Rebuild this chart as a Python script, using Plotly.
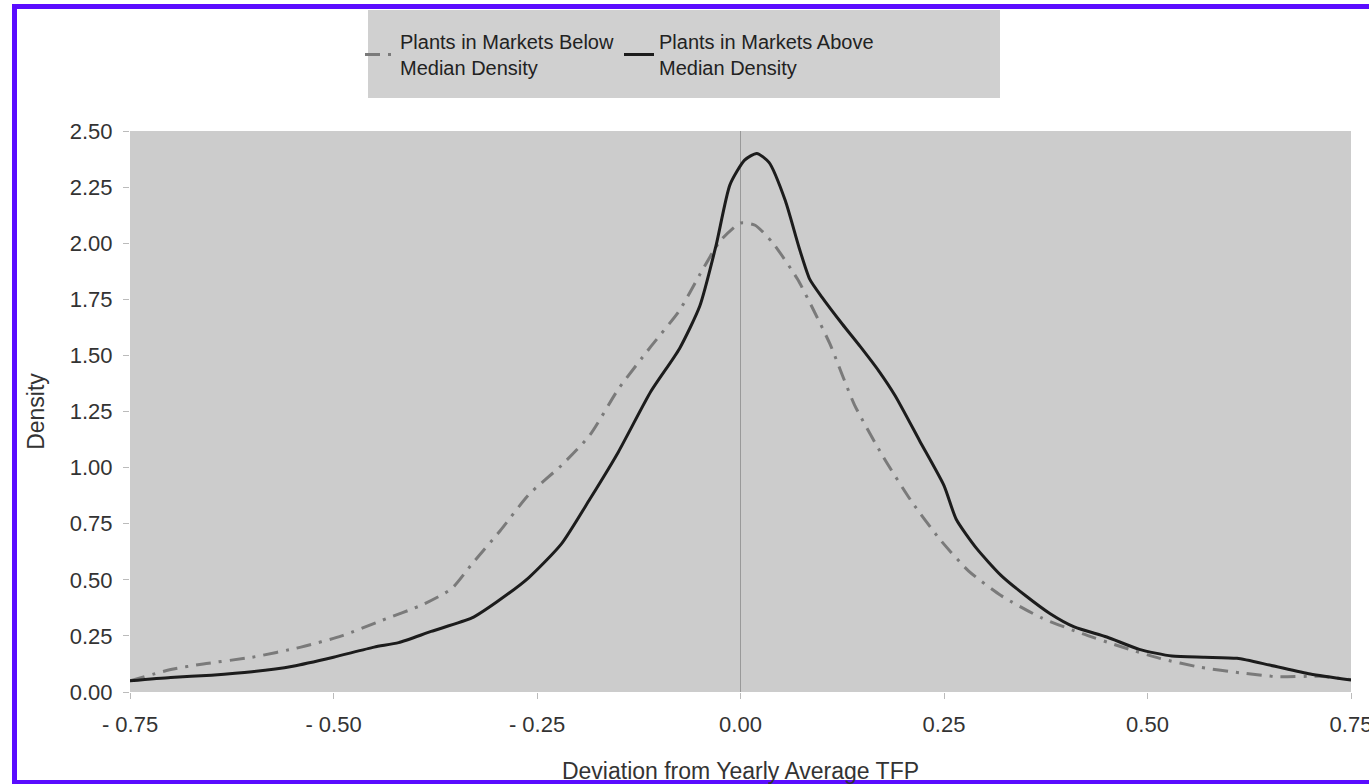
import plotly.graph_objects as go

# ---- data ----
above_x = [-0.75, -0.70, -0.65, -0.60, -0.55, -0.50, -0.45, -0.42, -0.38, -0.33,
           -0.30, -0.26, -0.22, -0.185, -0.15, -0.11, -0.075, -0.05, -0.03, -0.013,
           0.005, 0.02, 0.035, 0.055, 0.072, 0.085, 0.10, 0.125, 0.147, 0.17,
           0.19, 0.22, 0.25, 0.265, 0.29, 0.32, 0.35, 0.38, 0.41, 0.45,
           0.49, 0.53, 0.57, 0.61, 0.65, 0.70, 0.75]
above_y = [0.05, 0.065, 0.075, 0.09, 0.115, 0.155, 0.20, 0.22, 0.27, 0.33,
           0.40, 0.51, 0.66, 0.86, 1.07, 1.34, 1.53, 1.72, 1.99, 2.26,
           2.37, 2.40, 2.36, 2.19, 1.98, 1.84, 1.76, 1.64, 1.54, 1.43,
           1.32, 1.12, 0.92, 0.77, 0.64, 0.52, 0.43, 0.35, 0.29, 0.245,
           0.19, 0.16, 0.155, 0.15, 0.12, 0.08, 0.053]

below_x = [-0.75, -0.70, -0.66, -0.60, -0.54, -0.49, -0.44, -0.39, -0.355, -0.33,
           -0.295, -0.26, -0.22, -0.185, -0.15, -0.11, -0.075, -0.05, -0.025, 0.0,
           0.018, 0.04, 0.07, 0.09, 0.11, 0.14, 0.175, 0.21, 0.245, 0.28,
           0.32, 0.37, 0.42, 0.465, 0.515, 0.565, 0.615, 0.66, 0.71, 0.75]
below_y = [0.05, 0.10, 0.125, 0.155, 0.20, 0.25, 0.32, 0.39, 0.46, 0.57,
           0.72, 0.88, 1.01, 1.145, 1.35, 1.54, 1.70, 1.86, 2.01, 2.09,
           2.08, 2.00, 1.84, 1.70, 1.55, 1.28, 1.05, 0.85, 0.68, 0.54,
           0.43, 0.33, 0.26, 0.205, 0.15, 0.11, 0.085, 0.068, 0.07, 0.055]

x_tick_vals = [-0.75, -0.50, -0.25, 0.0, 0.25, 0.50, 0.75]
x_tick_text = ["- 0.75", "- 0.50", "- 0.25", "0.00", "0.25", "0.50", "0.75"]
y_tick_vals = [0.0, 0.25, 0.5, 0.75, 1.0, 1.25, 1.5, 1.75, 2.0, 2.25, 2.5]
y_tick_text = ["0.00", "0.25", "0.50", "0.75", "1.00", "1.25", "1.50", "1.75", "2.00", "2.25", "2.50"]

series_names = ["Plants in Markets Below<br>Median Density",
                "Plants in Markets Above<br>Median Density"]

FONT = "Liberation Sans, Arial, sans-serif"

fig = go.Figure()
fig.add_trace(go.Scatter(
    x=below_x, y=below_y, mode="lines", name=series_names[0],
    line=dict(color="#7a7a7a", width=3, dash="15px,8px,3px,8px", shape="spline", smoothing=0.6),
))
fig.add_trace(go.Scatter(
    x=above_x, y=above_y, mode="lines", name=series_names[1],
    line=dict(color="#1c1c1c", width=3, shape="spline", smoothing=0.6),
))

# plot area geometry (px): left 130, right 1351, top 131, bottom 692
L, R, T, B = 130, 1351, 131, 692
W, H = R - L, B - T
def px(x):
    return (x - L) / W
def py(y):
    return (B - y) / H

shapes = [
    # legend background box
    dict(type="rect", xref="paper", yref="paper",
         x0=px(368), x1=px(1000), y0=py(98), y1=py(10),
         fillcolor="#d0d0d0", line=dict(width=0), layer="below"),
    # outer blue frame
    dict(type="rect", xref="paper", yref="paper",
         x0=px(14.5), x1=px(1420), y0=py(782.5), y1=py(6.5),
         fillcolor="rgba(0,0,0,0)", line=dict(color="#5a0cff", width=5), layer="above"),
]

fig.update_layout(
    width=1369, height=784,
    margin=dict(l=L, r=1369 - R, t=T, b=784 - B),
    paper_bgcolor="white",
    plot_bgcolor="#cccccc",
    font=dict(family=FONT, color="#333333"),
    showlegend=True,
    legend=dict(
        orientation="h", x=px(360), y=py(22), xanchor="left", yanchor="top",
        bgcolor="rgba(0,0,0,0)", font=dict(size=20, color="#222222", family=FONT),
        itemwidth=30, tracegroupgap=0,
    ),
    shapes=shapes,
    xaxis=dict(
        range=[-0.75, 0.75], tickvals=x_tick_vals, ticktext=x_tick_text,
        showgrid=False, zeroline=True, zerolinecolor="#999999", zerolinewidth=1,
        ticks="outside", ticklen=6, tickcolor="#bbbbbb",
        tickfont=dict(size=22, color="#333333"), ticklabelstandoff=7,
        ticklabeloverflow="allow",
        showline=False, automargin=False,
        title=dict(text="Deviation from Yearly Average TFP", font=dict(size=23, color="#333333"), standoff=28),
    ),
    yaxis=dict(
        range=[0, 2.5], tickvals=y_tick_vals, ticktext=y_tick_text,
        showgrid=False, zeroline=False,
        ticks="outside", ticklen=6, tickcolor="#bbbbbb",
        tickfont=dict(size=22, color="#333333"), ticklabelstandoff=6,
        showline=False, automargin=False,
        title=dict(text="Density", font=dict(size=23, color="#333333"), standoff=18),
    ),
)

fig.write_html("out.html", config={"displayModeBar": False},
               post_script="document.body.style.margin='0';")
